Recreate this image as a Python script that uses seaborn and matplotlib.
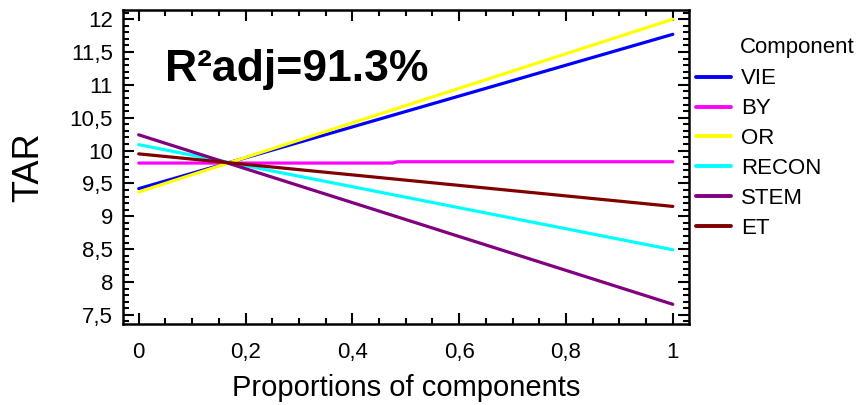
import matplotlib
matplotlib.use("Agg")
import matplotlib.pyplot as plt
from matplotlib.ticker import MultipleLocator, FixedLocator, FixedFormatter
import seaborn as sns
import pandas as pd

# ---- data ----
components = ["VIE", "BY", "OR", "RECON", "STEM", "ET"]
x_vie = [0.0, 1.0]
y_vie = [9.42, 11.77]
x_by = [0.0, 0.475, 0.485, 1.0]
y_by = [9.81, 9.81, 9.83, 9.83]
x_or = [0.0, 1.0]
y_or = [9.37, 12.0]
x_recon = [0.0, 1.0]
y_recon = [10.09, 8.49]
x_stem = [0.0, 1.0]
y_stem = [10.24, 7.66]
x_et = [0.0, 1.0]
y_et = [9.95, 9.15]
colors = ["#0000FF", "#FF00FF", "#FFFF00", "#00FFFF", "#800080", "#800000"]

x_ticks = [0, 0.2, 0.4, 0.6, 0.8, 1.0]
x_tick_labels = ["0", "0,2", "0,4", "0,6", "0,8", "1"]
y_ticks = [7.5, 8, 8.5, 9, 9.5, 10, 10.5, 11, 11.5, 12]
y_tick_labels = ["7,5", "8", "8,5", "9", "9,5", "10", "10,5", "11", "11,5", "12"]
annotation = "R²adj=91.3%"
legend_title = "Component"

series = {
    "VIE": (x_vie, y_vie), "BY": (x_by, y_by), "OR": (x_or, y_or),
    "RECON": (x_recon, y_recon), "STEM": (x_stem, y_stem), "ET": (x_et, y_et),
}
rows = []
for name in components:
    xs, ys = series[name]
    for xv, yv in zip(xs, ys):
        rows.append({"Proportion": xv, "TAR": yv, "Component": name})
df = pd.DataFrame(rows)

sns.set_theme(style="white")
plt.rcParams["font.family"] = ["Liberation Sans", "DejaVu Sans"]
plt.rcParams["text.color"] = "black"
plt.rcParams["axes.labelcolor"] = "black"
plt.rcParams["xtick.color"] = "black"
plt.rcParams["ytick.color"] = "black"

fig = plt.figure(figsize=(8.67, 4.05), dpi=100)
ax = fig.add_axes([0.1415, 0.2, 0.653, 0.7753])

sns.lineplot(data=df, x="Proportion", y="TAR", hue="Component",
             hue_order=components, palette=colors, linewidth=2.3,
             ax=ax, legend=True, estimator=None, sort=False)

ax.set_xlim(-0.03, 1.03)
ax.set_ylim(7.36, 12.14)
ax.xaxis.set_major_locator(FixedLocator(x_ticks))
ax.xaxis.set_major_formatter(FixedFormatter(x_tick_labels))
ax.yaxis.set_major_locator(FixedLocator(y_ticks))
ax.yaxis.set_major_formatter(FixedFormatter(y_tick_labels))
ax.xaxis.set_minor_locator(MultipleLocator(0.05))
ax.yaxis.set_minor_locator(MultipleLocator(0.1))

ax.tick_params(which="both", direction="in", top=True, right=True,
               bottom=True, left=True, color="black", width=1.5)
ax.tick_params(which="major", length=8)
ax.tick_params(which="minor", length=4)
ax.tick_params(axis="x", which="major", labelsize=16, labelcolor="black", pad=13)
ax.tick_params(axis="y", which="major", labelsize=16, labelcolor="black", pad=7)

for sp in ax.spines.values():
    sp.set_color("black")
    sp.set_linewidth(1.8)

ax.set_xlabel("Proportions of components", fontsize=21, labelpad=8, color="black")
ax.set_ylabel("TAR", fontsize=26, labelpad=17, color="black")

ax.text(0.075, 0.81, annotation, transform=ax.transAxes, fontsize=32,
        fontweight="bold", ha="left", va="center", color="black")

handles, labels = ax.get_legend_handles_labels()
leg = ax.legend(handles, labels, loc="upper left",
                bbox_to_anchor=(1.012, 0.814), frameon=False, fontsize=16,
                handlelength=1.6, handletextpad=0.45,
                labelspacing=0.4, borderaxespad=0.0, borderpad=0.0)
for t in leg.get_texts():
    t.set_color("black")
for line in leg.get_lines():
    line.set_linewidth(2.8)

fig.text(740 / 867, 1 - 47 / 405, legend_title, fontsize=16,
         ha="left", va="center", color="black")

fig.savefig("out.png", dpi=100)
